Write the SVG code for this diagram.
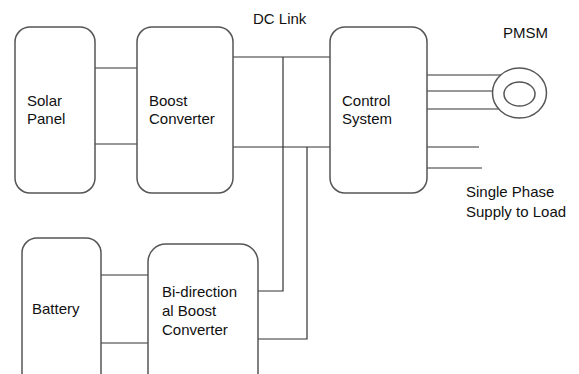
<svg xmlns="http://www.w3.org/2000/svg" width="579" height="374" viewBox="0 0 579 374">
<style>
.box{fill:#fff;stroke:#555;stroke-width:1.5}
.ln{fill:none;stroke:#333;stroke-width:1.2}
text{font-family:"Liberation Sans",Arial,sans-serif;font-size:15px;fill:#111}
</style>
<rect width="579" height="374" fill="#fff"/>
<g id="connectors">
<path class="ln" d="M95 68H137M95 144H137"/>
<path class="ln" d="M233 57H330M233 147H330"/>
<path class="ln" d="M283 57V291H258M307 147V339H258"/>
<path class="ln" d="M101 275H148M101 343H148"/>
<path class="ln" d="M427 75H503M427 91H494M427 109H502"/>
<path class="ln" d="M427 147H479M427 168H482"/>
</g>
<g id="solar"><rect class="box" x="15" y="27" width="80" height="166" rx="15"/><text x="27" y="106">Solar</text><text x="27" y="124">Panel</text></g>
<g id="boost"><rect class="box" x="137" y="27" width="96" height="166" rx="15"/><text x="149" y="106">Boost</text><text x="149" y="124">Converter</text></g>
<g id="control"><rect class="box" x="330" y="27" width="97" height="166" rx="15"/><text x="342" y="106">Control</text><text x="342" y="124">System</text></g>
<g id="battery"><rect class="box" x="22" y="238" width="79" height="150" rx="15"/><text x="32" y="314">Battery</text></g>
<g id="bidir"><rect class="box" x="148" y="244" width="110" height="150" rx="18"/><text x="162" y="297">Bi-direction</text><text x="162" y="316">al Boost</text><text x="162" y="335">Converter</text></g>
<g id="pmsm"><ellipse class="box" cx="519.5" cy="93" rx="27" ry="25"/><ellipse class="box" cx="519.5" cy="94" rx="15.5" ry="12"/><text x="503" y="38">PMSM</text></g>
<g id="labels"><text x="253" y="24">DC Link</text><text x="466" y="197">Single Phase</text><text x="466" y="217">Supply to Load</text></g>
</svg>
